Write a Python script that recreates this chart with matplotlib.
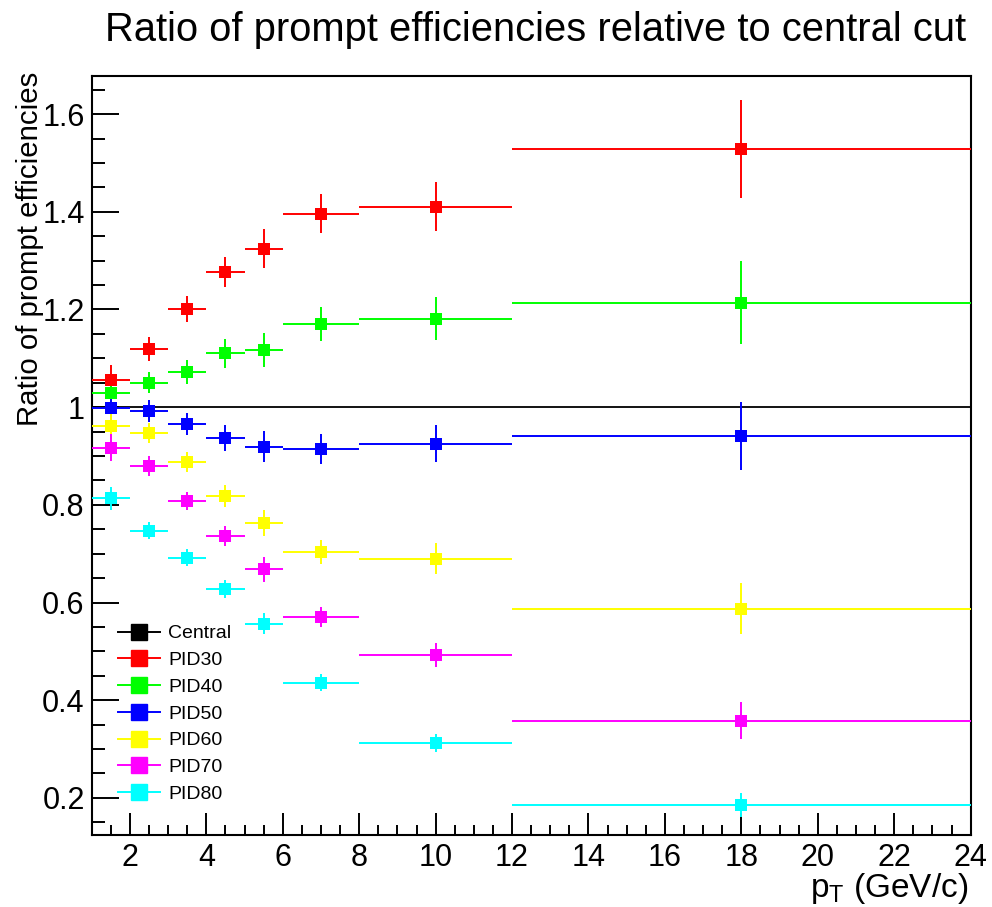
import matplotlib
matplotlib.use("Agg")
import matplotlib.pyplot as plt
from matplotlib.lines import Line2D
from matplotlib.ticker import MultipleLocator, FuncFormatter

plt.rcParams['font.family'] = ['Liberation Sans', 'DejaVu Sans']
plt.rcParams['mathtext.fontset'] = 'custom'
plt.rcParams['mathtext.rm'] = 'Liberation Sans'
plt.rcParams['mathtext.it'] = 'Liberation Sans'

# pT bins (GeV/c)
bin_centers = [1.5, 2.5, 3.5, 4.5, 5.5, 7.0, 10.0, 18.0]
bin_half_widths = [0.5, 0.5, 0.5, 0.5, 0.5, 1.0, 2.0, 6.0]

# efficiency ratios and their uncertainties
central = [1.0, 1.0, 1.0, 1.0, 1.0, 1.0, 1.0, 1.0]
pid30 = [1.055, 1.119, 1.201, 1.276, 1.324, 1.396, 1.410, 1.528]
pid30_err = [0.031, 0.025, 0.026, 0.031, 0.040, 0.040, 0.050, 0.100]
pid40 = [1.028, 1.050, 1.072, 1.110, 1.117, 1.171, 1.181, 1.214]
pid40_err = [0.027, 0.022, 0.024, 0.029, 0.035, 0.035, 0.044, 0.085]
pid50 = [0.999, 0.992, 0.966, 0.937, 0.919, 0.914, 0.925, 0.941]
pid50_err = [0.028, 0.023, 0.023, 0.026, 0.032, 0.031, 0.038, 0.070]
pid60 = [0.962, 0.947, 0.888, 0.818, 0.763, 0.703, 0.690, 0.587]
pid60_err = [0.027, 0.020, 0.021, 0.022, 0.027, 0.024, 0.031, 0.052]
pid70 = [0.917, 0.880, 0.808, 0.736, 0.668, 0.570, 0.492, 0.358]
pid70_err = [0.027, 0.020, 0.018, 0.021, 0.025, 0.021, 0.025, 0.038]
pid80 = [0.813, 0.747, 0.692, 0.628, 0.557, 0.436, 0.312, 0.185]
pid80_err = [0.024, 0.017, 0.017, 0.019, 0.022, 0.018, 0.019, 0.025]

series_names = ["PID30", "PID40", "PID50", "PID60", "PID70", "PID80"]
series_values = [pid30, pid40, pid50, pid60, pid70, pid80]
series_errors = [pid30_err, pid40_err, pid50_err, pid60_err, pid70_err, pid80_err]
series_colors = ["#ff0000", "#00ff00", "#0000ff", "#ffff00", "#ff00ff", "#00ffff"]

fig = plt.figure(figsize=(9.92, 9.07), dpi=100)
ax = fig.add_axes([0.0924, 0.0794, 0.8861, 0.8368])

ax.errorbar(bin_centers, central, xerr=bin_half_widths, fmt='none',
            ecolor='black', elinewidth=1.3, capsize=0, zorder=2)

for name, vals, errs, col in zip(series_names, series_values, series_errors, series_colors):
    ax.errorbar(bin_centers, vals, xerr=bin_half_widths, yerr=errs, fmt='s',
                color=col, ecolor=col, markersize=8.6, markeredgewidth=0,
                elinewidth=1.4, capsize=2.2, capthick=1.4, zorder=3)

ax.set_xlim(1, 24)
ax.set_ylim(0.124, 1.678)

ax.xaxis.set_major_locator(MultipleLocator(2))
ax.xaxis.set_minor_locator(MultipleLocator(0.5))
ax.yaxis.set_major_locator(MultipleLocator(0.2))
ax.yaxis.set_minor_locator(MultipleLocator(0.05))
ax.yaxis.set_major_formatter(FuncFormatter(lambda v, p: f"{v:g}"))
ax.xaxis.set_major_formatter(FuncFormatter(lambda v, p: f"{v:g}"))

ax.tick_params(axis='both', which='both', direction='in', top=False, right=False,
               labelsize=22, width=1.4, color='black')
ax.tick_params(axis='y', which='major', length=19.4, pad=5)
ax.tick_params(axis='y', which='minor', length=9.6)
ax.tick_params(axis='x', which='major', length=15.8, pad=6)
ax.tick_params(axis='x', which='minor', length=7.2)
for sp in ax.spines.values():
    sp.set_linewidth(1.5)

fig.text(536 / 992, 1 - 30 / 907, "Ratio of prompt efficiencies relative to central cut",
         ha='center', va='center', fontsize=28.7)
fig.text(968 / 992, 1 - 888 / 907, r"$\mathregular{p_T}$ (GeV/c)",
         ha='right', va='center', fontsize=24)
fig.text(30 / 992, 1 - 72 / 907, "Ratio of prompt efficiencies",
         ha='center', va='top', rotation=90, fontsize=21.2)

handles = [Line2D([], [], color='black', marker='s', markersize=11.5, lw=1.4)]
labels = ["Central"]
for name, col in zip(series_names, series_colors):
    handles.append(Line2D([], [], color=col, marker='s', markersize=11.5, lw=1.4))
    labels.append(name)
ax.legend(handles, labels, loc='upper left', bbox_to_anchor=(0.030, 0.277),
          frameon=False, fontsize=14, borderpad=0, borderaxespad=0,
          handlelength=2.15, handletextpad=0.43, labelspacing=0.47)

fig.savefig("out.png", dpi=100)
